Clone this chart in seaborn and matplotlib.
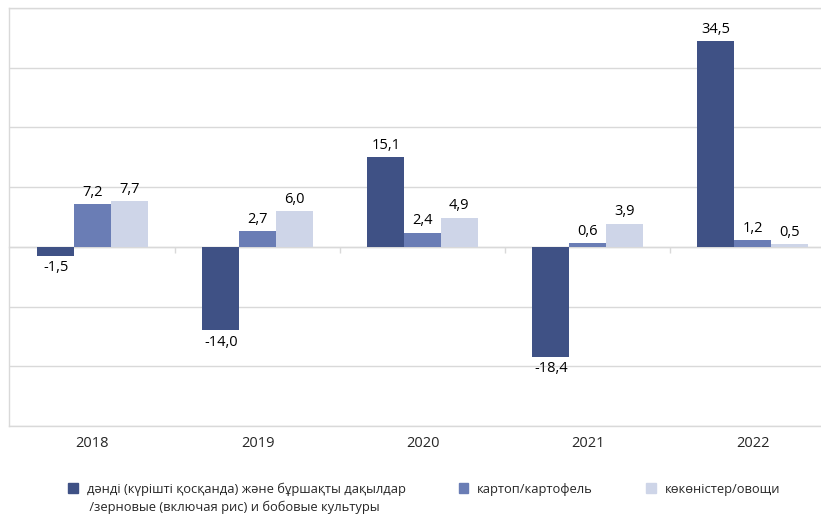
import pandas as pd
import matplotlib
matplotlib.use("Agg")
import matplotlib.pyplot as plt
import seaborn as sns

# data
years = ["2018", "2019", "2020", "2021", "2022"]
grain = [-1.5, -14.0, 15.1, -18.4, 34.5]
potato = [7.2, 2.7, 2.4, 0.6, 1.2]
vegetables = [7.7, 6.0, 4.9, 3.9, 0.5]

series_names = [
    "дәнді (күрішті қосқанда) және бұршақты дақылдар",
    "картоп/картофель",
    "көкөністер/овощи",
]
second_line = " /зерновые (включая рис) и бобовые культуры"
colors = ["#3F5185", "#6A7DB5", "#CED5E8"]

df = pd.DataFrame({
    "year": years * 3,
    "value": grain + potato + vegetables,
    "series": [series_names[0]] * 5 + [series_names[1]] * 5 + [series_names[2]] * 5,
})

sns.set_style("white")
plt.rcParams["font.family"] = ["Open Sans", "DejaVu Sans"]

fig = plt.figure(figsize=(8.21, 5.15), dpi=100)
ax = fig.add_axes([9 / 821, 1 - 426 / 515, 1 - 9 / 821, (426 - 8) / 515])

sns.barplot(data=df, x="year", y="value", hue="series", palette=colors,
            width=0.667, ax=ax, legend=False, saturation=1,
            edgecolor="none", linewidth=0)

for cont in ax.containers:
    labels = [f"{b.get_height():.1f}".replace(".", ",") for b in cont]
    ax.bar_label(cont, labels=labels, padding=3, fontsize=10.5, color="#000000")

ax.set_ylim(-30, 40)
ax.set_xlim(-0.506, 4.415)
ax.set_yticks(range(-30, 41, 10))
ax.set_yticklabels([])
ax.yaxis.grid(True, color="#D9D9D9", linewidth=1)
ax.set_axisbelow(True)
ax.set_xlabel("")
ax.set_ylabel("")
ax.tick_params(axis="x", length=0, pad=7, labelsize=10.5)
ax.tick_params(axis="y", length=0)
for side in ["left", "top", "bottom"]:
    ax.spines[side].set_color("#D9D9D9")
    ax.spines[side].set_linewidth(1)
ax.spines["right"].set_visible(False)

# zero axis line with small category separators (location in axes fraction)
zero = ax.secondary_xaxis(30 / 70)
zero.set_xticks([0.5, 1.5, 2.5, 3.5])
zero.set_xticklabels([])
zero.tick_params(length=4, color="#D9D9D9", width=1, direction="out")
zero.spines["bottom"].set_color("#D9D9D9")
zero.spines["bottom"].set_linewidth(1)

handles = [plt.Rectangle((0, 0), 1, 1, color=c) for c in colors]
fig.legend(handles, series_names, loc="center left", ncol=3,
           bbox_to_anchor=(68 / 821, 1 - 489 / 515), frameon=False,
           fontsize=9.3, handlelength=0.75, handleheight=0.75,
           handletextpad=0.7, columnspacing=4.1, borderaxespad=0,
           borderpad=0)
fig.text(86 / 821, 1 - 507 / 515, second_line, fontsize=9.3, va="center", ha="left")

fig.savefig("out.png", dpi=100, facecolor="white")
